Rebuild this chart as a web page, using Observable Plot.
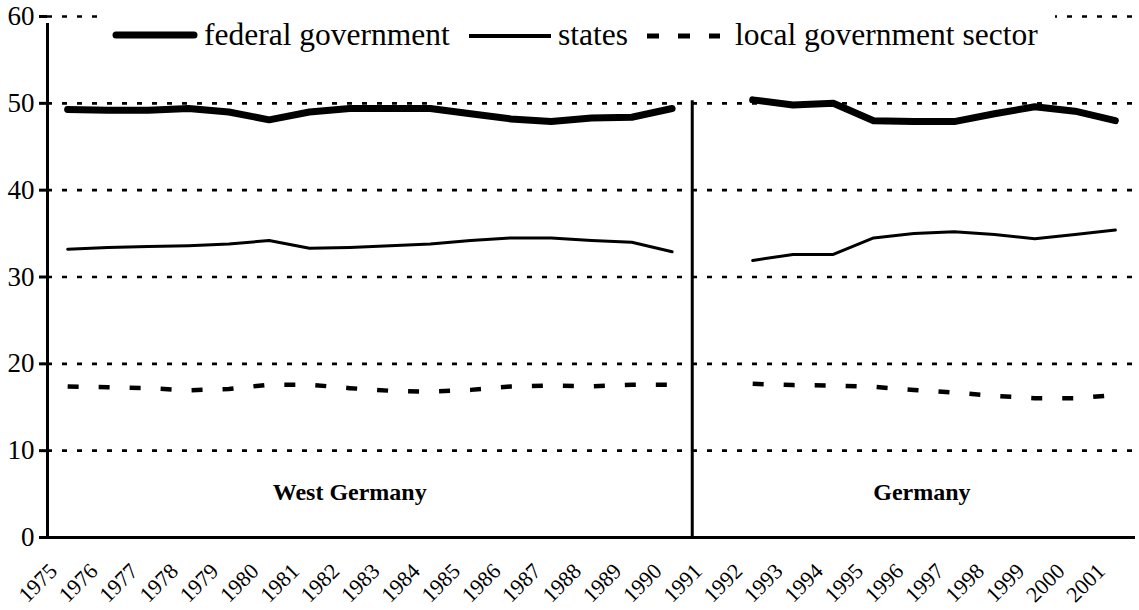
<!DOCTYPE html>
<html>
<head>
<meta charset="utf-8">
<script src="https://cdn.jsdelivr.net/npm/d3@7"></script>
<script src="https://cdn.jsdelivr.net/npm/@observablehq/plot@0.6"></script>
<style>
  body { margin: 0; background: #fff; }
  #wrap { position: relative; width: 1139px; height: 610px; font-family: 'Liberation Serif', 'Times New Roman', Times, Tinos, 'DejaVu Serif', serif; }
  #legend { position: absolute; left: 100px; top: 10px; width: 955px; height: 50px; background: #fff; }
  #legend svg { position: absolute; top: 0; left: 0; }
  #legend span { position: absolute; top: 9px; font-size: 31.5px; line-height: 1; white-space: nowrap; color: #000; }
  svg text { font-family: 'Liberation Serif', 'Times New Roman', Times, Tinos, 'DejaVu Serif', serif; }
</style>
</head>
<body>
<div id="wrap"></div>
<script>
// ---- data ----
const seriesNames = ["federal government", "states", "local government sector"];
const westYears = [1975,1976,1977,1978,1979,1980,1981,1982,1983,1984,1985,1986,1987,1988,1989,1990];
const westFederal = [49.3,49.2,49.2,49.4,49.0,48.1,49.0,49.4,49.4,49.4,48.8,48.2,47.9,48.3,48.4,49.4];
const westStates  = [33.2,33.4,33.5,33.6,33.8,34.2,33.3,33.4,33.6,33.8,34.2,34.5,34.5,34.2,34.0,32.9];
const westLocal   = [17.4,17.3,17.2,16.95,17.1,17.6,17.6,17.2,16.9,16.8,17.0,17.4,17.5,17.4,17.6,17.6];
const gerYears = [1992,1993,1994,1995,1996,1997,1998,1999,2000,2001];
const gerFederal = [50.4,49.8,50.0,48.0,47.9,47.9,48.8,49.6,49.1,48.0];
const gerStates  = [31.9,32.6,32.6,34.5,35.0,35.2,34.9,34.4,34.9,35.4];
const gerLocal   = [17.7,17.55,17.5,17.35,17.0,16.7,16.3,16.05,16.05,16.4];
const tickYears = d3.range(1975, 2002);
const yTicks = [0,10,20,30,40,50,60];
const panelLabels = [{label: "West Germany", x: 1982.0, y: 5.2}, {label: "Germany", x: 1996.2, y: 5.2}];

// ---- build tidy rows ----
function rows(years, vals, series, period) {
  return years.map((yr, i) => ({year: yr, value: vals[i], series, period}));
}
const data = [
  ...rows(westYears, westFederal, seriesNames[0], "west"),
  ...rows(westYears, westStates, seriesNames[1], "west"),
  ...rows(westYears, westLocal, seriesNames[2], "west"),
  ...rows(gerYears, gerFederal, seriesNames[0], "ger"),
  ...rows(gerYears, gerStates, seriesNames[1], "ger"),
  ...rows(gerYears, gerLocal, seriesNames[2], "ger")
];
const fed = data.filter(d => d.series === seriesNames[0]);
const sta = data.filter(d => d.series === seriesNames[1]);
const loc = data.filter(d => d.series === seriesNames[2]);

const chart = Plot.plot({
  width: 1139,
  height: 610,
  marginLeft: 47,
  marginRight: 4,
  marginTop: 16,
  marginBottom: 73,
  style: {background: "#fff", color: "#000", overflow: "visible"},
  x: {domain: [1974.5, 2001.5], axis: null},
  y: {domain: [0, 60], axis: null},
  marks: [
    // dotted gridlines
    Plot.ruleY(yTicks.filter(t => t > 0), {stroke: "#000", strokeWidth: 2.6, strokeDasharray: "5,10"}),
    // y axis
    Plot.axisY(yTicks, {tickSize: 8, tickPadding: 5, fontSize: 27, strokeWidth: 3, stroke: "#000", fill: "#000"}),
    Plot.ruleX([1974.5], {y1: 0, y2: 60, strokeWidth: 3, insetBottom: -7}),
    // x axis
    Plot.ruleY([0], {strokeWidth: 3}),
    // divider
    Plot.ruleX([1990.5], {y1: 0, y2: 51.1, strokeWidth: 3, insetBottom: -7}),
    // series
    Plot.line(loc, {x: "year", y: "value", z: "period", stroke: "#000", strokeWidth: 4.5, strokeDasharray: "11,20", strokeLinecap: "butt"}),
    Plot.line(sta, {x: "year", y: "value", z: "period", stroke: "#000", strokeWidth: 3}),
    Plot.line(fed, {x: "year", y: "value", z: "period", stroke: "#000", strokeWidth: 7, strokeLinecap: "round", strokeLinejoin: "round"}),
    // panel labels
    Plot.text(panelLabels, {x: "x", y: "y", text: "label", fontSize: 24, fontWeight: "bold", fill: "#000"}),
    // x tick labels
    Plot.text(tickYears, {x: d => d, frameAnchor: "bottom", text: d => String(d), rotate: -45, textAnchor: "end", dx: -9, dy: 35, fontSize: 22, fill: "#000"})
  ]
});

const wrap = document.getElementById("wrap");
wrap.appendChild(chart);

// ---- legend overlay ----
const legend = document.createElement("div");
legend.id = "legend";
legend.innerHTML = `
<svg width="955" height="50">
  <line x1="16" x2="94" y1="25" y2="25" stroke="#000" stroke-width="7" stroke-linecap="round"/>
  <line x1="369" x2="451" y1="26" y2="26" stroke="#000" stroke-width="4"/>
  <line x1="547" x2="620" y1="26" y2="26" stroke="#000" stroke-width="5" stroke-dasharray="12,19"/>
</svg>
<span style="left:104px">${seriesNames[0]}</span>
<span style="left:458px">${seriesNames[1]}</span>
<span style="left:635px">${seriesNames[2]}</span>`;
wrap.appendChild(legend);
</script>
</body>
</html>
